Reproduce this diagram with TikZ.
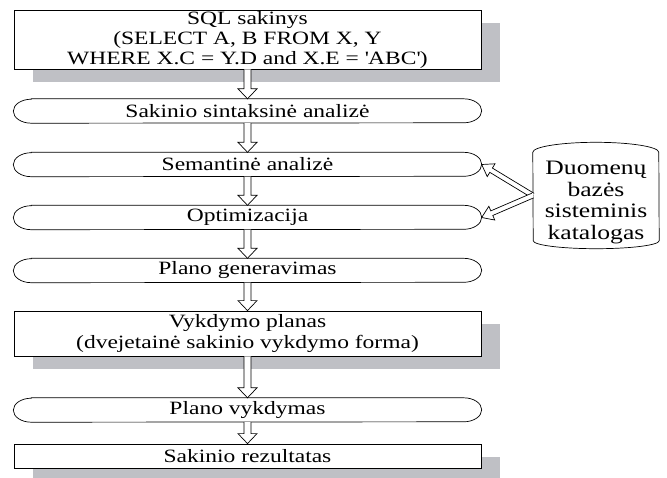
\documentclass[tikz,border=0pt]{standalone}
\usepackage{fontspec}
\setmainfont{Liberation Serif}
\newfontfamily\widefont{Liberation Serif}[FakeStretch=1.25]
\usetikzlibrary{calc,shadows}
\definecolor{shadowgray}{RGB}{191,192,197}
\newcommand\hollowarrow[5]{%
  \coordinate (ha-h) at ($(#2)!#5!(#1)$);
  \draw[fill=white,line width=0.7pt] ($(#1)!#3!90:(#2)$) -- ($(ha-h)!#3!90:(#2)$) -- ($(ha-h)!#4!90:(#2)$) -- (#2) -- ($(ha-h)!#4!-90:(#2)$) -- ($(ha-h)!#3!-90:(#2)$) -- ($(#1)!#3!-90:(#2)$);
}
\newcommand\termoutline[1]{%
  \draw[line width=0.7pt] ([xshift=18pt]#1.north west) -- ([xshift=-18pt]#1.north east)
    arc[start angle=90, end angle=-90, x radius=18pt, y radius=12pt]
    -- ([xshift=18pt]#1.south west)
    arc[start angle=270, end angle=90, x radius=18pt, y radius=12pt] -- cycle;
}
\tikzset{
  txt/.style={font=\widefont\fontsize{18.8}{20}\selectfont, align=center, inner sep=0pt},
  rbox/.style={draw, line width=0.8pt, rectangle, minimum width=467pt, fill=white, txt,
    drop shadow={shadow xshift=19pt, shadow yshift=-12.5pt, fill=shadowgray, opacity=1, draw=none}},
  term/.style={rectangle, minimum width=468pt, minimum height=24pt, txt},
}
\begin{document}
\begin{tikzpicture}[x=1pt,y=1pt]
\useasboundingbox (0,0) rectangle (667,-477);
\clip (0,0) rectangle (667,-477);
\node[rbox, minimum height=59pt] (sql) at (247.5,-39.5) {SQL sakinys\\(SELECT A, B FROM X, Y\\WHERE X.C = Y.D and X.E = \textquotesingle ABC\textquotesingle )};
\node[term] (r1) at (247.5,-111) {Sakinio sintaksinė analizė};
\node[term] (r2) at (247.5,-164.5) {Semantinė analizė};
\node[term] (r3) at (247.5,-217.5) {Optimizacija};
\node[term] (r4) at (247.5,-270.5) {Plano generavimas};
\node[rbox, minimum height=45pt, font=\widefont\fontsize{18.8}{21}\selectfont] (plan) at (247.5,-333.5) {Vykdymo planas\\(dvejetainė sakinio vykdymo forma)};
\node[term] (r5) at (247.5,-410) {Plano vykdymas};
\node[rbox, minimum height=24pt] (res) at (247.5,-456) {Sakinio rezultatas};
\termoutline{r1}
\termoutline{r2}
\termoutline{r3}
\termoutline{r4}
\termoutline{r5}
% catalogue cylinder
\node[minimum width=126pt, minimum height=106pt, inner sep=0pt] (cyl) at (596,-195.5) {};
\draw[line width=0.7pt] ([yshift=-10pt]cyl.north west) arc[start angle=180, end angle=0, x radius=63pt, y radius=10pt]
  -- ([yshift=8pt]cyl.south east) arc[start angle=0, end angle=-180, x radius=63pt, y radius=8pt] -- cycle;
\node[txt, font=\widefont\fontsize{20.5}{21.5}\selectfont] (cyltext) at (596,-202.5) {Duomenų\\bazės\\sisteminis\\katalogas};
% arrows
\hollowarrow{sql.south}{r1.north}{3.5pt}{9.5pt}{10pt}
\hollowarrow{r1.south}{r2.north}{3.5pt}{9.5pt}{10pt}
\hollowarrow{r2.south}{r3.north}{3.5pt}{9.5pt}{10pt}
\hollowarrow{r3.south}{r4.north}{3.5pt}{9.5pt}{10pt}
\hollowarrow{r4.south}{plan.north}{3.5pt}{9.5pt}{10pt}
\hollowarrow{plan.south}{r5.north}{3.5pt}{9.5pt}{10pt}
\hollowarrow{r5.south}{res.north}{3.5pt}{9.5pt}{10pt}
\hollowarrow{cyl.west}{r2.east}{2.5pt}{7.5pt}{11pt}
\hollowarrow{cyl.west}{r3.east}{2.5pt}{7.5pt}{11pt}
\end{tikzpicture}
\end{document}
